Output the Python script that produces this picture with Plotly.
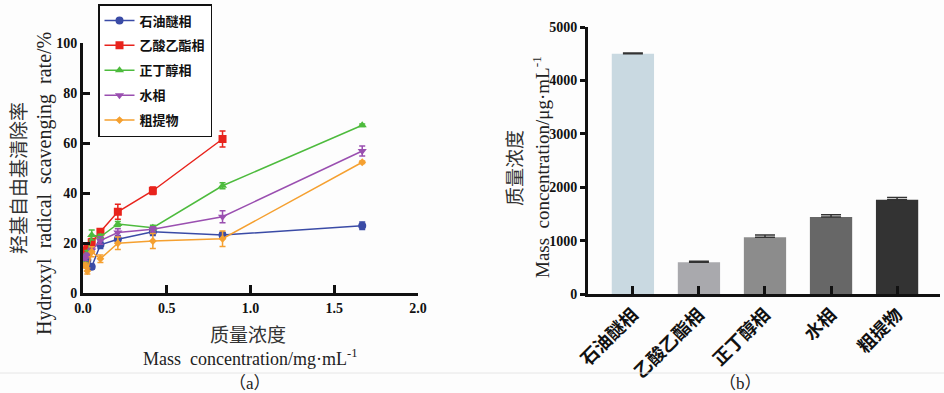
import plotly.graph_objects as go

# ---------------- data (a) ----------------
conc = [0.013, 0.026, 0.052, 0.104, 0.208, 0.417, 0.833, 1.667]
conc_red = [0.013, 0.026, 0.052, 0.104, 0.208, 0.417, 0.833]

names = ["石油醚相", "乙酸乙酯相", "正丁醇相", "水相", "粗提物"]
pe_y = [14.5, 13.2, 10.5, 19.3, 21.5, 24.5, 23.2, 26.9]
pe_e = [1.2, 1.0, 1.0, 1.5, 1.5, 1.5, 1.0, 1.5]
ea_y = [17.0, 18.0, 20.3, 24.5, 32.5, 40.9, 61.6]
ea_e = [1.0, 1.0, 1.5, 1.0, 3.0, 1.5, 3.2]
nb_y = [12.0, 16.0, 23.2, 22.5, 27.6, 26.1, 42.9, 67.1]
nb_e = [1.0, 1.0, 2.0, 1.0, 1.0, 1.0, 1.2, 0.5]
wa_y = [14.0, 15.0, 17.0, 21.0, 24.2, 25.5, 30.5, 56.8]
wa_e = [1.0, 1.0, 1.0, 1.5, 1.5, 1.0, 2.4, 2.0]
cr_y = [11.0, 8.8, 16.5, 13.7, 19.9, 20.8, 21.7, 52.3]
cr_e = [1.0, 1.2, 2.0, 1.5, 2.5, 3.0, 3.1, 0.5]

colors = ["#3a4ba6", "#e8231c", "#4dbb3d", "#9a4fb0", "#f5a030"]
symbols = ["circle", "square", "triangle-up", "triangle-down", "diamond"]

# ---------------- data (b) ----------------
bar_cats = ["石油醚相", "乙酸乙酯相", "正丁醇相", "水相", "粗提物"]
bar_vals = [4500, 595, 1065, 1440, 1765]
bar_err = [15, 20, 40, 45, 40]
bar_colors = ["#c9d9e1", "#a9a9ad", "#8c8c8c", "#676767", "#333333"]

SERIF = "Liberation Serif, Times New Roman, Noto Sans CJK SC, serif"
CJK = "Noto Sans CJK SC, sans-serif"

fig = go.Figure()

series = [(conc, pe_y, pe_e), (conc_red, ea_y, ea_e), (conc, nb_y, nb_e),
          (conc, wa_y, wa_e), (conc, cr_y, cr_e)]
sizes = [8, 8, 8, 8, 6]
for i, (xs, ys, es) in enumerate(series):
    fig.add_trace(go.Scatter(
        x=xs, y=ys, name=names[i], mode="lines+markers",
        legendgroup=f"g{i}",
        line=dict(color=colors[i], width=1.5),
        marker=dict(symbol=symbols[i], size=sizes[i], color=colors[i]),
        error_y=dict(type="data", array=es, color=colors[i], thickness=1.5, width=3),
        xaxis="x", yaxis="y",
    ))

fig.add_trace(go.Bar(
    x=bar_cats, y=bar_vals, marker=dict(color=bar_colors, line=dict(width=0)),
    error_y=dict(type="data", array=bar_err, symmetric=False, arrayminus=[0]*5,
                 color="#333333", thickness=1.5, width=10),
    showlegend=False, xaxis="x2", yaxis="y2",
))

W, H = 944, 393
def px(x):
    return x / W
def py(y):
    return 1 - y / H

tickfont = dict(family=SERIF, size=14, color="#111111", weight="bold")

fig.update_layout(
    template="none",
    width=W, height=H, margin=dict(l=0, r=0, t=0, b=0, autoexpand=False),
    paper_bgcolor="#fdfdfd", plot_bgcolor="rgba(0,0,0,0)",
    bargap=0.36,
    showlegend=True,
    legend=dict(x=px(98), y=py(4), xanchor="left", yanchor="top",
                bordercolor="#111111", borderwidth=1.5, bgcolor="white",
                font=dict(family=CJK, size=13, color="#111111", weight="bold"),
                tracegroupgap=5, itemwidth=30),
    xaxis=dict(domain=[px(83), px(418)], range=[0, 2.0], tickvals=[0, 0.5, 1.0, 1.5, 2.0],
               ticktext=["0.0", "0.5", "1.0", "1.5", "2.0"], automargin=False,
               showline=True, linecolor="#111111", linewidth=3, ticks="inside",
               ticklen=8, tickwidth=2.5, tickcolor="#111111", showgrid=False,
               zeroline=False, tickfont=tickfont, anchor="y"),
    yaxis=dict(domain=[py(293), py(43)], range=[0, 100], tickvals=[0, 20, 40, 60, 80, 100],
               showline=True, linecolor="#111111", linewidth=3, ticks="inside", automargin=False,
               ticklen=7, tickwidth=2.5, tickcolor="#111111", showgrid=False,
               zeroline=False, tickfont=tickfont, anchor="x"),
    xaxis2=dict(domain=[px(588), px(940)], range=[-0.68, 4.65], automargin=False,
                showline=True, linecolor="#111111", linewidth=3, ticks="inside",
                ticklen=8, tickwidth=2.5, tickcolor="#111111", showgrid=False,
                tickangle=-45, tickfont=dict(family=CJK, size=18, color="#111111", weight="bold"),
                anchor="y2"),
    yaxis2=dict(domain=[py(294), py(27)], range=[0, 5000], tickvals=[0, 1000, 2000, 3000, 4000, 5000],
                showline=True, linecolor="#111111", linewidth=3, ticks="outside", automargin=False,
                ticklen=5, tickwidth=2.5, tickcolor="#111111", showgrid=False,
                zeroline=False, tickfont=tickfont, anchor="x2"),
)

nb = "\u00a0"
ann = [
    dict(text="羟基自由基清除率", x=px(18), y=py(178), textangle=-90,
         font=dict(family=CJK, size=19, color="#333333")),
    dict(text=f"Hydroxyl{nb}{nb}radical{nb}{nb}scavenging{nb}{nb}rate/%", x=px(44), y=py(184), textangle=-90,
         font=dict(family=SERIF, size=20, color="#222222")),
    dict(text="质量浓度", x=px(248), y=py(333),
         font=dict(family=CJK, size=19, color="#333333")),
    dict(text=f"Mass{nb}{nb}concentration/mg·mL<sup>-1</sup>", x=px(250), y=py(357),
         font=dict(family=SERIF, size=18, color="#222222")),
    dict(text="（a）", x=px(250), y=py(383), font=dict(family=SERIF, size=17, color="#222222")),
    dict(text="质量浓度", x=px(513), y=py(168), textangle=-90,
         font=dict(family=CJK, size=19, color="#333333")),
    dict(text=f"Mass{nb}{nb}concentration/μg·mL<sup>-1</sup>", x=px(541), y=py(167), textangle=-90,
         font=dict(family=SERIF, size=19, color="#222222")),
    dict(text="（b）", x=px(740), y=py(383), font=dict(family=SERIF, size=17, color="#222222")),
]
for a in ann:
    a.update(xref="paper", yref="paper", showarrow=False, xanchor="center", yanchor="middle")
fig.update_layout(annotations=ann)

fig.add_shape(type="line", xref="paper", yref="paper", x0=0, x1=1, y0=py(373), y1=py(373),
              line=dict(color="#e6e6e6", width=1))

fig.write_html("out.html")
